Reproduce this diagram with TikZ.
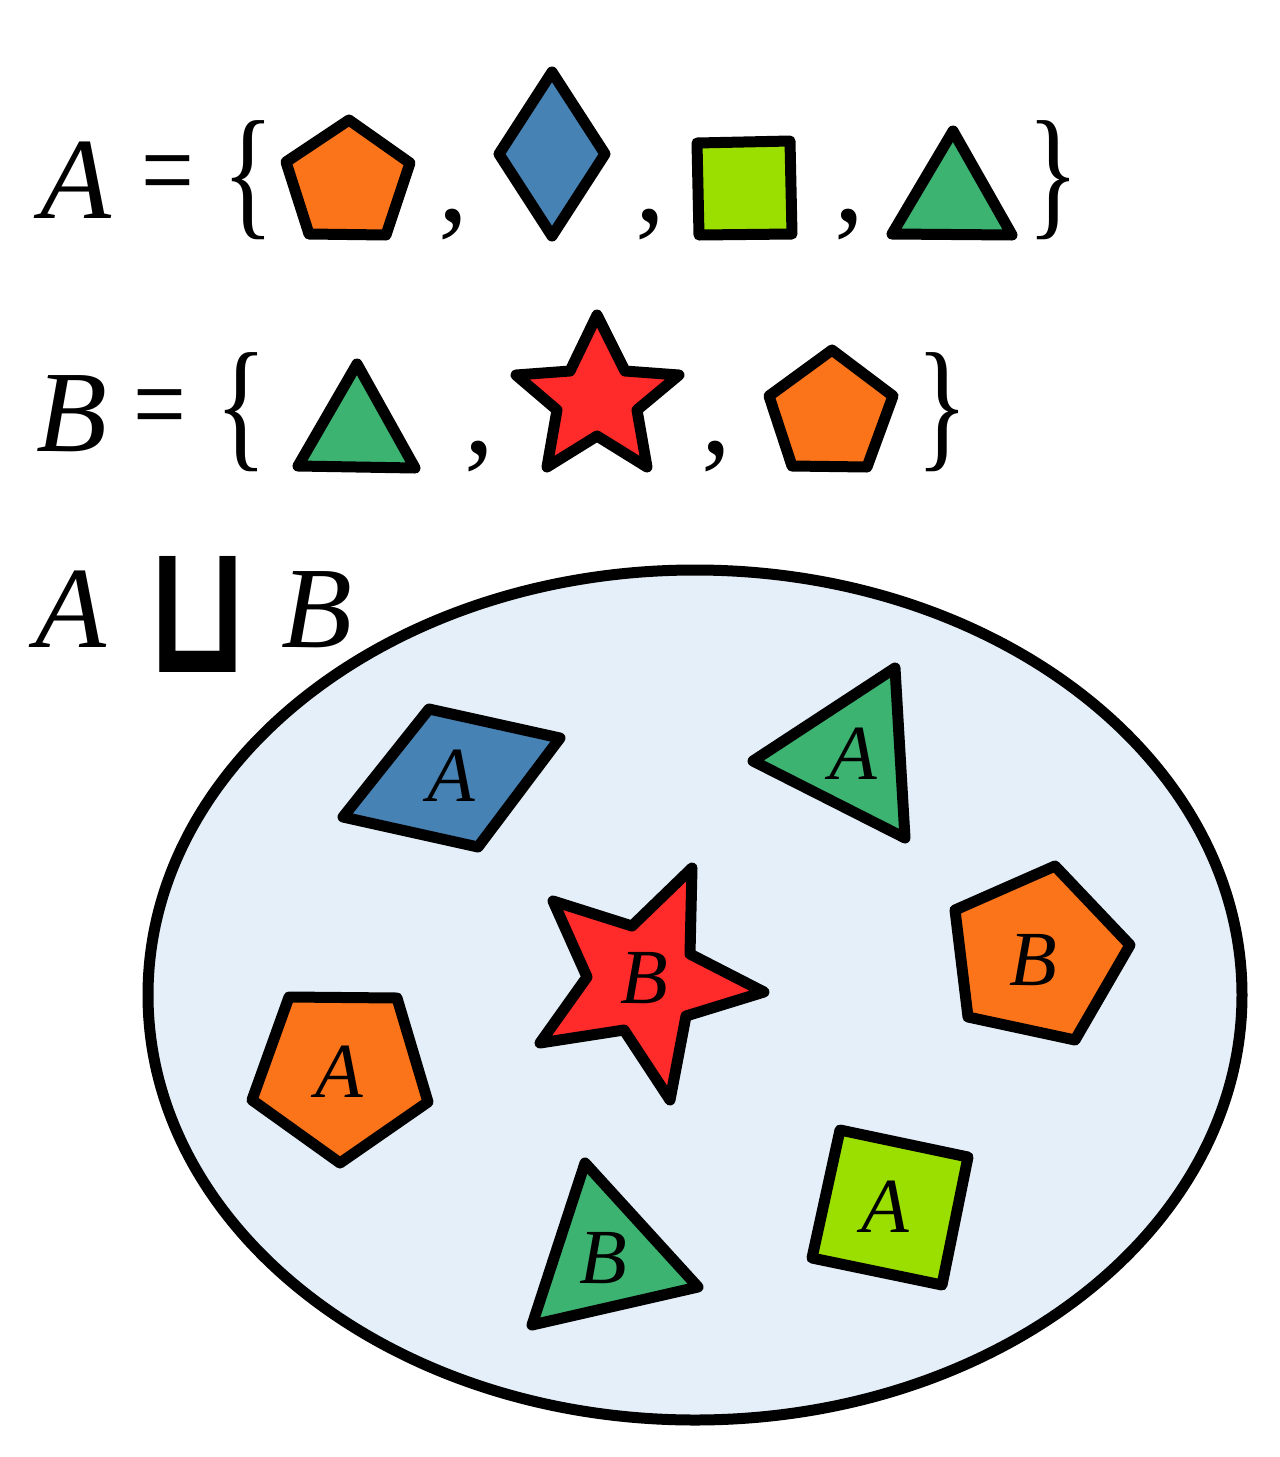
\documentclass[tikz,border=0pt]{standalone}
\usepackage{fontspec}
\usepackage{graphicx}
\setmainfont{Liberation Serif}
\newfontfamily\symfont{DejaVu Sans Mono}
\definecolor{orng}{RGB}{252,116,26}
\definecolor{stblue}{RGB}{70,130,180}
\definecolor{limeg}{RGB}{155,223,0}
\definecolor{sgreen}{RGB}{60,179,113}
\definecolor{sred}{RGB}{255,42,42}
\definecolor{bgblue}{RGB}{228,239,249}
\newcommand{\tallbrace}[1]{\scalebox{0.9}[1.2]{#1}}
\newcommand{\nareq}{\scalebox{0.78}[1]{=}}
\tikzset{
  shp/.style={draw=black, line width=11pt, line join=round},
  bigtxt/.style={inner sep=0pt, font=\fontsize{120}{120}\selectfont},
  bigit/.style={bigtxt, font=\fontsize{116}{116}\selectfont\itshape},
  lblit/.style={inner sep=0pt, font=\fontsize{78}{78}\selectfont\itshape},
}
\begin{document}
\begin{tikzpicture}[x=1pt,y=-1pt]
\useasboundingbox (0,0) rectangle (1280,1457);
% ---- row 1 : A = { ... }
\node[bigit] (Aname) at (76,180) {A};
\node[bigtxt] (eq1) at (168,183) {\nareq};
\node[bigtxt] (lb1) at (248,180) {\tallbrace{\{}};
\draw[shp, fill=orng] (349,120) -- (410,163) -- (386,235) -- (309,234) -- (286,162) -- cycle;
\node[bigtxt] (c11) at (453,225) {,};
\draw[shp, fill=stblue] (552,72) -- (605,154) -- (552,236) -- (499,154) -- cycle;
\node[bigtxt] (c12) at (650,225) {,};
\draw[shp, fill=limeg] (697,143) -- (790,141) -- (792,234) -- (699,235) -- cycle;
\node[bigtxt] (c13) at (849,225) {,};
\draw[shp, fill=sgreen] (953,131) -- (1012,235) -- (892,234) -- cycle;
\node[bigtxt] (rb1) at (1053,180) {\tallbrace{\}}};
% ---- row 2 : B = { ... }
\node[bigit] (Bname) at (72,414) {B};
\node[bigtxt] (eq2) at (160,417) {\nareq};
\node[bigtxt] (lb2) at (241,412) {\tallbrace{\{}};
\draw[shp, fill=sgreen] (357,364) -- (415,468) -- (298,466) -- cycle;
\node[bigtxt] (c21) at (479,457) {,};
\draw[shp, fill=sred] (597,315) -- (625,371) -- (679,375) -- (637,410) -- (647,467)
   -- (597,436) -- (547,467) -- (557,410) -- (516,375) -- (570,371) -- cycle;
\node[bigtxt] (c22) at (716,457) {,};
\draw[shp, fill=orng] (832,350) -- (893,396) -- (867,467) -- (792,466) -- (769,396) -- cycle;
\node[bigtxt] (rb2) at (942,412) {\tallbrace{\}}};
% ---- row 3 : A ⊔ B
\node[bigit] (Aname3) at (71,609) {A};
\node[inner sep=0pt] (sqcup) at (198,614) {\scalebox{0.76}[1]{\resizebox{!}{116pt}{\symfont\bfseries ⊔}}};
\node[bigit] (Bname3) at (317,610) {B};
% ---- disjoint union ellipse
\draw[line width=11pt, fill=bgblue] (695,995) ellipse [x radius=547pt, y radius=425pt];
% blue rhombus A
\draw[shp, fill=stblue] (429,709) -- (560,738) -- (478,847) -- (343,817) -- cycle;
\node[lblit] (t1) at (451,776) {A};
% green triangle A
\draw[shp, fill=sgreen] (753,761) -- (895,668) -- (905,838) -- cycle;
\node[lblit] (t2) at (853,754) {A};
% red star B
\draw[shp, fill=sred] (553,901) -- (632,926) -- (692,868) -- (690,954) -- (764,992)
   -- (686,1016) -- (670,1100) -- (624,1030) -- (540,1043) -- (587,977) -- cycle;
\node[lblit] (t3) at (644,978) {B};
% orange pentagon B
\draw[shp, fill=orng] (955,910) -- (1055,866) -- (1130,945) -- (1075,1040) -- (968,1017) -- cycle;
\node[lblit] (t4) at (1033,960) {B};
% orange pentagon A
\draw[shp, fill=orng] (289,997) -- (397,998) -- (428,1102) -- (340,1163) -- (252,1100) -- cycle;
\node[lblit] (t5) at (339,1072) {A};
% green triangle B
\draw[shp, fill=sgreen] (585,1163) -- (698,1287) -- (532,1325) -- cycle;
\node[lblit] (t6) at (603,1258) {B};
% lime square A
\draw[shp, fill=limeg] (840,1130) -- (968,1157) -- (942,1285) -- (812,1258) -- cycle;
\node[lblit] (t7) at (885,1207) {A};
\end{tikzpicture}
\end{document}
